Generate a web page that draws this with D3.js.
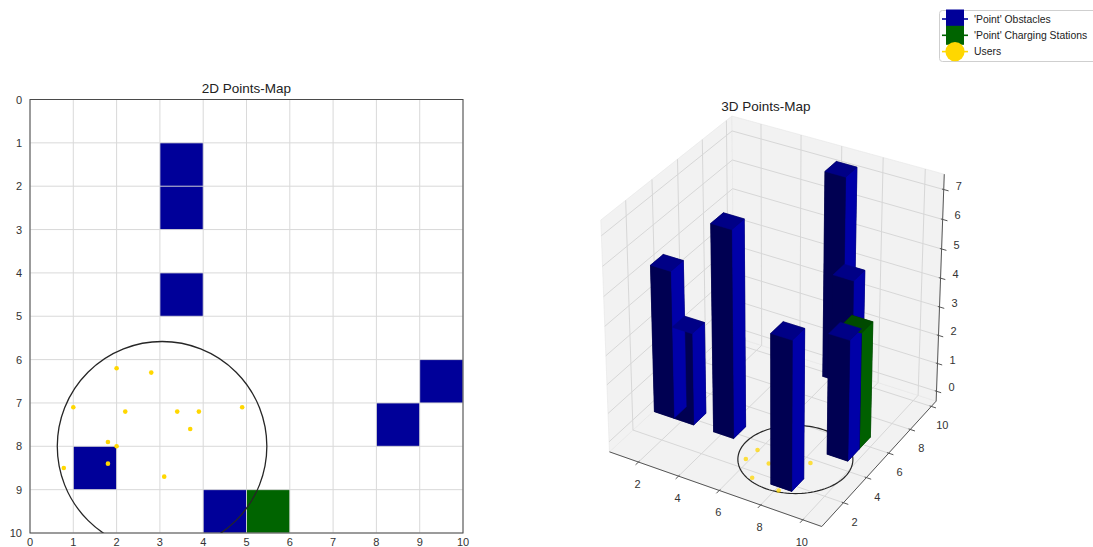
<!DOCTYPE html>
<html>
<head>
<meta charset="utf-8">
<script src="https://cdn.jsdelivr.net/npm/d3@7"></script>
<style>
  html, body { margin: 0; padding: 0; background: #fff; overflow: hidden; }
  svg { display: block; font-family: "Liberation Sans", Arial, sans-serif; }
</style>
</head>
<body>
<svg id="chart" width="1093" height="547"></svg>
<script>
// ---- map data: grid cells given as (column, row) of the 10x10 map ----
const obstacleCols = [3, 3, 3, 1, 4, 8, 9];
const obstacleRows = [1, 2, 4, 8, 9, 7, 6];
const obstacleHeights = [5.1, 3.2, 7.1, 5.1, 4.15, 4.2, 7.15];

const stationCols = [5];
const stationRows = [9];
const stationHeights = [4.0];

const userX = [2.0, 2.8, 1.0, 2.2, 3.4, 3.9, 4.9, 3.7, 1.8, 2.0, 1.8, 0.78, 3.1];
const userY = [6.2, 6.3, 7.1, 7.2, 7.2, 7.2, 7.1, 7.6, 7.9, 8.0, 8.4, 8.5, 8.7];

const coverageCenter = [3.05, 8.0];
const coverageRadius = 2.42;

const mapTicks = [0, 1, 2, 3, 4, 5, 6, 7, 8, 9, 10];
const ticks3dX = [2, 4, 6, 8, 10];
const ticks3dY = [2, 4, 6, 8, 10];
const ticks3dZ = [0, 1, 2, 3, 4, 5, 6, 7];

const legendLabels = ["'Point' Obstacles", "'Point' Charging Stations", "Users"];

// ---- colours ----
const C = {
  obstacle: "#000099",
  station: "#006400",
  user: "#ffd700",
  grid: "#d6d6d6",
  spine: "#4a4a4a",
  text: "#333333",
  pane: "#f2f2f2",
  grid3d: "#d7d7d7",
  axis3d: "#555555",
  obstacleFaces: { top: "#000086", front: "#000052", side: "#0000a8", hidden: "#000040" },
  stationFaces: { top: "#004a00", front: "#002e00", side: "#006000", hidden: "#002000" }
};

const svg = d3.select("#chart");
svg.append("rect").attr("width", 1093).attr("height", 547).attr("fill", "#fff");

// =====================================================================
// 2D map
// =====================================================================
const x2 = d3.scaleLinear().domain([0, 10]).range([30, 463]);
const y2 = d3.scaleLinear().domain([0, 10]).range([99.5, 533]);

const g2 = svg.append("g");
g2.append("defs").append("clipPath").attr("id", "clip2d")
  .append("rect")
  .attr("x", x2(0)).attr("y", y2(0))
  .attr("width", x2(10) - x2(0)).attr("height", y2(10) - y2(0));

const cells = obstacleCols.map((c, i) => ({ c, r: obstacleRows[i], color: C.obstacle }))
  .concat(stationCols.map((c, i) => ({ c, r: stationRows[i], color: C.station })));

g2.selectAll("rect.cell").data(cells).join("rect")
  .attr("class", "cell")
  .attr("x", d => x2(d.c)).attr("y", d => y2(d.r))
  .attr("width", d => x2(d.c + 1) - x2(d.c))
  .attr("height", d => y2(d.r + 1) - y2(d.r))
  .attr("fill", d => d.color);

// grid sits above the patches, below lines and markers
const gridG = g2.append("g").attr("stroke", C.grid).attr("stroke-width", 1).attr("opacity", 0.9);
gridG.selectAll("line.v").data(mapTicks).join("line")
  .attr("x1", d => x2(d)).attr("x2", d => x2(d))
  .attr("y1", y2(0)).attr("y2", y2(10));
gridG.selectAll("line.h").data(mapTicks).join("line")
  .attr("y1", d => y2(d)).attr("y2", d => y2(d))
  .attr("x1", x2(0)).attr("x2", x2(10));

g2.append("circle")
  .attr("clip-path", "url(#clip2d)")
  .attr("cx", x2(coverageCenter[0])).attr("cy", y2(coverageCenter[1]))
  .attr("r", x2(coverageRadius) - x2(0))
  .attr("fill", "none").attr("stroke", "#262626").attr("stroke-width", 1.3);

g2.selectAll("circle.user").data(userX).join("circle")
  .attr("class", "user")
  .attr("cx", d => x2(d)).attr("cy", (d, i) => y2(userY[i]))
  .attr("r", 2.3).attr("fill", C.user);

g2.append("rect")
  .attr("x", x2(0)).attr("y", y2(0))
  .attr("width", x2(10) - x2(0)).attr("height", y2(10) - y2(0))
  .attr("fill", "none").attr("stroke", C.spine).attr("stroke-width", 1);

g2.selectAll("text.yt").data(mapTicks).join("text")
  .attr("x", 22).attr("y", d => y2(d))
  .attr("text-anchor", "end").attr("dominant-baseline", "central")
  .attr("font-size", 11).attr("fill", C.text).text(d => d);
g2.selectAll("text.xt").data(mapTicks).join("text")
  .attr("x", d => x2(d)).attr("y", 546)
  .attr("text-anchor", "middle")
  .attr("font-size", 11).attr("fill", C.text).text(d => d);

g2.append("text").attr("x", (x2(0) + x2(10)) / 2).attr("y", 88)
  .attr("text-anchor", "middle").attr("dominant-baseline", "central")
  .attr("font-size", 13.5).attr("fill", "#222").text("2D Points-Map");

// =====================================================================
// 3D map: obstacles become bars; 3D x = map row, 3D y = map column
// =====================================================================
const bars = obstacleCols.map((c, i) => ({ x: obstacleRows[i], y: c, h: obstacleHeights[i], faces: C.obstacleFaces }))
  .concat(stationCols.map((c, i) => ({ x: stationRows[i], y: c, h: stationHeights[i], faces: C.stationFaces })));

const ring = d3.range(0, 361, 3).map(a => {
  const t = a * Math.PI / 180;
  return [coverageCenter[1] + coverageRadius * Math.cos(t), coverageCenter[0] + coverageRadius * Math.sin(t)];
});

// axis limits from the data extents with 5% margins
function padded(lo, hi) { const d = (hi - lo) * 0.05; return [lo - d, hi + d]; }
const xlim = padded(
  Math.min(d3.min(bars, b => b.x), d3.min(ring, p => p[0])),
  Math.max(d3.max(bars, b => b.x + 1), d3.max(ring, p => p[0])));
const ylim = padded(
  Math.min(d3.min(bars, b => b.y), d3.min(ring, p => p[1])),
  Math.max(d3.max(bars, b => b.y + 1), d3.max(ring, p => p[1])));
const zlim = padded(0, d3.max(bars, b => b.h));

const wx = d3.scaleLinear().domain(xlim).range([-0.5, 0.5]);
const wy = d3.scaleLinear().domain(ylim).range([-0.5, 0.5]);
const wz = d3.scaleLinear().domain(zlim).range([-0.5, 0.5]);

const view = { elev: 30, azim: -60, dist: 10 };
const el = view.elev * Math.PI / 180, az = view.azim * Math.PI / 180;
const nVec = [Math.cos(el) * Math.cos(az), Math.cos(el) * Math.sin(az), Math.sin(el)];
const uVec = [-Math.sin(az), Math.cos(az), 0];
const vVec = [-Math.sin(el) * Math.cos(az), -Math.sin(el) * Math.sin(az), Math.cos(el)];
const dot = (a, b) => a[0] * b[0] + a[1] * b[1] + a[2] * b[2];

// projected plane -> pixels
const px3 = d3.scaleLinear().domain([-0.095, 0.09]).range([542.5, 995.9]);
const py3 = d3.scaleLinear().domain([-0.095, 0.09]).range([565.7, 76.1]);

function project(x, y, z) {
  const p = [wx(x), wy(y), wz(z)];
  const depth = dot(nVec, p);
  const w = view.dist - depth;
  return [px3(dot(uVec, p) / w), py3(dot(vVec, p) / w), depth];
}
const line3 = d3.line();
const path3 = pts => line3(pts.map(q => project(q[0], q[1], q[2]).slice(0, 2)));

const g3 = svg.append("g");
const [X0, X1] = xlim, [Y0, Y1] = ylim, [Z0, Z1] = zlim;

// panes: floor, left wall (x = min), back wall (y = max)
const panes = [
  [[X0, Y0, Z0], [X1, Y0, Z0], [X1, Y1, Z0], [X0, Y1, Z0]],
  [[X0, Y0, Z0], [X0, Y1, Z0], [X0, Y1, Z1], [X0, Y0, Z1]],
  [[X0, Y1, Z0], [X1, Y1, Z0], [X1, Y1, Z1], [X0, Y1, Z1]]
];
g3.selectAll("path.pane").data(panes).join("path")
  .attr("d", d => path3(d) + "Z").attr("fill", C.pane).attr("stroke", "#e6e6e6").attr("stroke-width", 0.6);

// grid lines run across the panes
const grid3 = [];
ticks3dX.forEach(t => grid3.push([[t, Y0, Z0], [t, Y1, Z0], [t, Y1, Z1]]));
ticks3dY.forEach(t => grid3.push([[X1, t, Z0], [X0, t, Z0], [X0, t, Z1]]));
ticks3dZ.forEach(t => grid3.push([[X0, Y0, t], [X0, Y1, t], [X1, Y1, t]]));
g3.selectAll("path.grid").data(grid3).join("path")
  .attr("d", path3).attr("fill", "none").attr("stroke", C.grid3d).attr("stroke-width", 1);

// axis lines
const axes3 = [
  [[X0, Y0, Z0], [X1, Y0, Z0]],
  [[X1, Y0, Z0], [X1, Y1, Z0]],
  [[X1, Y1, Z0], [X1, Y1, Z1]]
];
g3.selectAll("path.axis").data(axes3).join("path")
  .attr("d", path3).attr("fill", "none").attr("stroke", C.axis3d).attr("stroke-width", 1);

const xr = X1 - X0, yr = Y1 - Y0;
const tickSegs = [];
ticks3dX.forEach(t => tickSegs.push([[t, Y0 + 0.008 * yr, Z0], [t, Y0 - 0.022 * yr, Z0]]));
ticks3dY.forEach(t => tickSegs.push([[X1 - 0.008 * xr, t, Z0], [X1 + 0.022 * xr, t, Z0]]));
ticks3dZ.forEach(t => tickSegs.push([[X1 - 0.008 * xr, Y1, t], [X1 + 0.022 * xr, Y1, t]]));
g3.selectAll("path.tick").data(tickSegs).join("path")
  .attr("d", path3).attr("fill", "none").attr("stroke", C.axis3d).attr("stroke-width", 1);

function tickLabels(vals, posFn, dx, dy) {
  g3.selectAll(null).data(vals).join("text")
    .attr("x", d => posFn(d)[0] + dx).attr("y", d => posFn(d)[1] + dy)
    .attr("text-anchor", "middle").attr("dominant-baseline", "central")
    .attr("font-size", 11).attr("fill", C.text).text(d => d);
}
tickLabels(ticks3dX, t => project(t, Y0, Z0), -1, 22);
tickLabels(ticks3dY, t => project(X1, t, Z0), 11, 19);
tickLabels(ticks3dZ, t => project(X1, Y1, t), 15, -4);

// coverage ring and users on the floor
g3.append("path").attr("d", path3(ring.map(p => [p[0], p[1], 0])))
  .attr("fill", "none").attr("stroke", "#262626").attr("stroke-width", 1.2);
g3.selectAll("circle.user3").data(userX).join("circle")
  .attr("cx", (d, i) => project(userY[i], d, 0)[0])
  .attr("cy", (d, i) => project(userY[i], d, 0)[1])
  .attr("r", 2.3).attr("fill", C.user).attr("opacity", 0.75);

// bar faces, painted back to front
const faces = [];
bars.forEach(b => {
  const x0 = b.x, x1 = b.x + 1, y0 = b.y, y1 = b.y + 1, h = b.h;
  const f = b.faces;
  faces.push({ pts: [[x0, y0, 0], [x1, y0, 0], [x1, y1, 0], [x0, y1, 0]], fill: f.hidden });
  faces.push({ pts: [[x0, y0, h], [x1, y0, h], [x1, y1, h], [x0, y1, h]], fill: f.top });
  faces.push({ pts: [[x0, y0, 0], [x1, y0, 0], [x1, y0, h], [x0, y0, h]], fill: f.front });
  faces.push({ pts: [[x0, y1, 0], [x1, y1, 0], [x1, y1, h], [x0, y1, h]], fill: f.hidden });
  faces.push({ pts: [[x0, y0, 0], [x0, y1, 0], [x0, y1, h], [x0, y0, h]], fill: f.hidden });
  faces.push({ pts: [[x1, y0, 0], [x1, y1, 0], [x1, y1, h], [x1, y0, h]], fill: f.side });
});
faces.forEach(f => { f.depth = d3.mean(f.pts, q => project(q[0], q[1], q[2])[2]); });
faces.sort((a, b) => a.depth - b.depth);
g3.selectAll("path.face").data(faces).join("path")
  .attr("d", d => path3(d.pts) + "Z")
  .attr("fill", d => d.fill).attr("stroke", d => d.fill).attr("stroke-width", 0.5)
  .attr("stroke-linejoin", "round");

g3.append("text").attr("x", 766).attr("y", 106)
  .attr("text-anchor", "middle").attr("dominant-baseline", "central")
  .attr("font-size", 13.5).attr("fill", "#222").text("3D Points-Map");

// =====================================================================
// legend
// =====================================================================
const leg = svg.append("g");
leg.append("rect").attr("x", 939.5).attr("y", 10.5).attr("width", 170).attr("height", 51)
  .attr("rx", 3).attr("fill", "#fff").attr("fill-opacity", 0.85)
  .attr("stroke", "#cfcfcf").attr("stroke-width", 1);
const legRows = [19, 35.3, 51.6];
const legColors = [C.obstacle, C.station, C.user];
legendLabels.forEach((label, i) => {
  const cy = legRows[i];
  leg.append("line").attr("x1", 942).attr("x2", 968).attr("y1", cy).attr("y2", cy)
    .attr("stroke", legColors[i]).attr("stroke-width", 1.6);
  if (i < 2) {
    leg.append("rect").attr("x", 946).attr("y", cy - 9.5).attr("width", 18).attr("height", 19)
      .attr("fill", legColors[i]);
  } else {
    leg.append("circle").attr("cx", 955).attr("cy", cy).attr("r", 9.6).attr("fill", legColors[i]);
  }
  leg.append("text").attr("x", 974).attr("y", cy)
    .attr("dominant-baseline", "central").attr("font-size", 10.4).attr("fill", "#222").text(label);
});
</script>
</body>
</html>
